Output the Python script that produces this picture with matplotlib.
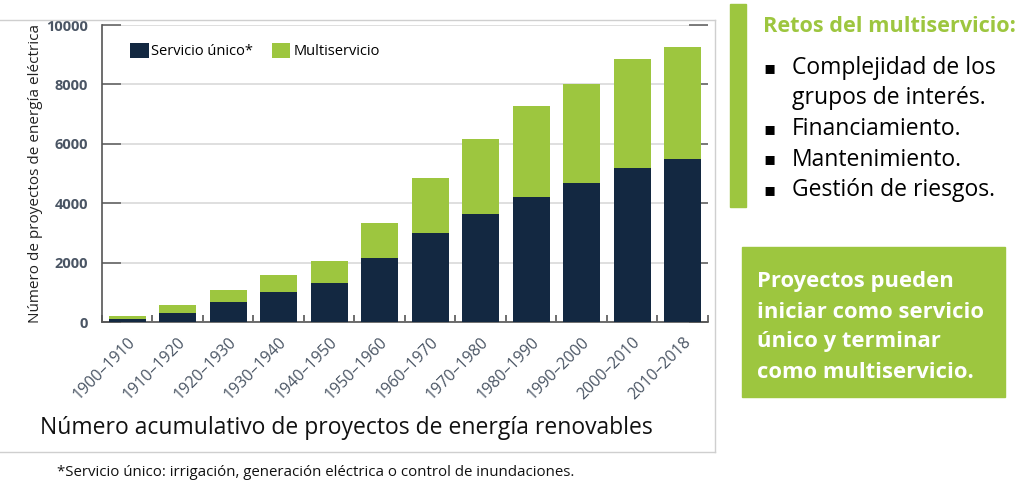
import numpy as np
import matplotlib.pyplot as plt
from matplotlib.patches import Rectangle
from matplotlib.lines import Line2D

# Data
periodos = ["1900\u20131910", "1910\u20131920", "1920\u20131930", "1930\u20131940",
            "1940\u20131950", "1950\u20131960", "1960\u20131970", "1970\u20131980",
            "1980\u20131990", "1990\u20132000", "2000\u20132010", "2010\u20132018"]
servicio_unico = [110, 290, 685, 1000, 1325, 2145, 3000, 3640, 4220, 4680, 5175, 5500]
total = [200, 560, 1090, 1580, 2045, 3320, 4860, 6170, 7260, 8025, 8845, 9250]
multiservicio = [t - s for t, s in zip(total, servicio_unico)]

retos = ["Complejidad de los\ngrupos de interés.", "Financiamiento.",
         "Mantenimiento.", "Gestión de riesgos."]
nota = ["Proyectos pueden", "iniciar como servicio", "único y terminar",
        "como multiservicio."]

navy = "#132841"
green = "#9DC63F"

plt.rcParams['font.family'] = ['Open Sans', 'DejaVu Sans']

fig = plt.figure(figsize=(10.21, 4.83), dpi=100)
ax = fig.add_axes([0.0999, 0.3333, 0.5935, 0.6149])

# ============================================================================
# Stacked bars

x = np.arange(len(periodos))
ax.bar(x, servicio_unico, width=0.73, color=navy, label="Servicio único*", zorder=3)
ax.bar(x, multiservicio, width=0.73, bottom=servicio_unico, color=green,
       label="Multiservicio", zorder=3)

ax.set_xlim(-0.46, 11.48)
ax.set_ylim(0, 10000)
ax.set_yticks(range(0, 10001, 2000))
ax.yaxis.grid(True, color="#d9d9d9", linewidth=1.2, zorder=0)
for s in ["top", "right"]:
    ax.spines[s].set_visible(False)
for s in ["left", "bottom"]:
    ax.spines[s].set_color("#555555")
    ax.spines[s].set_linewidth(1.2)

ax.tick_params(axis="y", direction="in", length=14, width=1.2, color="#666666",
               right=True, pad=10, labelsize=10.5, labelcolor="#4a5564")
for lab in ax.get_yticklabels():
    lab.set_fontweight("bold")

ax.set_xticks(x)
ax.set_xticklabels(periodos, rotation=45, ha="right", rotation_mode="anchor",
                   fontsize=11.5, color="#4a5564")
ax.tick_params(axis="x", length=0, pad=9)
ax.set_xticks(np.arange(len(periodos) + 1) - 0.5, minor=True)
ax.tick_params(axis="x", which="minor", direction="in", length=5, width=1.2,
               color="#555555")

ax.set_ylabel("Número de proyectos de energía eléctrica", fontsize=11,
              color="#222222", labelpad=2)

ax.legend(loc="upper left", bbox_to_anchor=(0.025, 0.985), ncol=2, frameon=False,
          fontsize=10.5, handlelength=1.25, handleheight=1.3, handletextpad=0.2,
          columnspacing=1.3)

# ============================================================================
# Frame lines around the chart image and captions

fig.add_artist(Line2D([0, 715 / 1021], [1 - 20 / 483] * 2, color="#cfcfcf", lw=1))
fig.add_artist(Line2D([0, 715 / 1021], [1 - 452 / 483] * 2, color="#cfcfcf", lw=1))
fig.add_artist(Line2D([715 / 1021] * 2, [1 - 20 / 483, 1 - 452 / 483],
                      color="#cfcfcf", lw=1))

fig.text(40 / 1021, 1 - 428 / 483, "Número acumulativo de proyectos de energía renovables",
         fontsize=16.5, color="#111111", va="center")
fig.text(57 / 1021, 1 - 472 / 483,
         "*Servicio único: irrigación, generación eléctrica o control de inundaciones.",
         fontsize=10.8, color="#111111", va="center")

# ============================================================================
# Right panel

fig.add_artist(Rectangle((730 / 1021, 1 - 207 / 483), 16 / 1021, 203 / 483,
                         color=green, transform=fig.transFigure))
fig.text(763 / 1021, 1 - 27 / 483, "Retos del multiservicio:", fontsize=15.6,
         fontweight="bold", color=green, va="center")

y = 68
for item in retos:
    fig.text(763 / 1021, 1 - y / 483, "\u25aa", fontsize=13, color="black",
             va="center")
    for linea in item.split("\n"):
        fig.text(792 / 1021, 1 - y / 483, linea, fontsize=16.5, color="black",
                 va="center")
        y += 30.5

fig.add_artist(Rectangle((742 / 1021, 1 - 397 / 483), 263 / 1021, 150 / 483,
                         color=green, transform=fig.transFigure))
y = 282
for linea in nota:
    fig.text(757 / 1021, 1 - y / 483, linea, fontsize=15.8, fontweight="bold",
             color="white", va="center")
    y += 30

fig.savefig("out.png", dpi=100)
